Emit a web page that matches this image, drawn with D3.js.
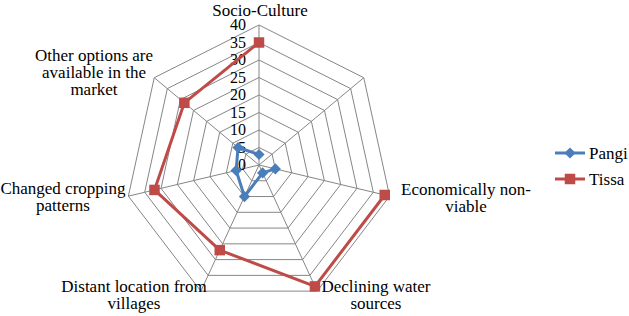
<!DOCTYPE html>
<html>
<head>
  <title>Radar</title>
  <script src="https://d3js.org/d3.v7.min.js"></script>
</head>
<body style="margin:0">
  <svg id="chart" width="629" height="316"></svg>
  <script>
    // categories, clockwise from the top (one axis has no label / no value)
    const categories = [
      ["Socio-Culture"],
      [],
      ["Economically non-", "viable"],
      ["Declining water", "sources"],
      ["Distant location from", "villages"],
      ["Changed cropping", "patterns"],
      ["Other options are", "available in the", "market"]
    ];
    const pangi = [3, null, 5, 2.5, 10, 7, 8];
    const tissa = [35, null, 38.5, 38.5, 27, 32, 28.5];
    const tickValues = [0, 5, 10, 15, 20, 25, 30, 35, 40];
    const seriesNames = ["Pangi", "Tissa"];

    // label placement (center x, first baseline)
    const labelPos = [[260, 16], null, [466, 195], [376, 292], [134, 292], [63, 194], [94, 61]];

    const cx = 259, cy = 165, RX = 134, RY = 140;
    const grid = "#868686";
    const colors = ["#4a7ebb", "#be4b48"];
    const serif = "Liberation Serif";

    const svg = d3.select("#chart");

    const n = categories.length;
    const angle = d3.scaleLinear().domain([0, n]).range([0, 2 * Math.PI]);
    const r = d3.scaleLinear().domain([0, 40]).range([0, 1]);

    const px = (i, v) => cx + Math.sin(angle(i)) * r(v) * RX;
    const py = (i, v) => cy - Math.cos(angle(i)) * r(v) * RY;

    // rings
    tickValues.filter(t => t > 0).forEach(t => {
      const pts = d3.range(n).map(i => [px(i, t), py(i, t)]);
      svg.append("polygon")
        .attr("points", pts.map(p => p.join(",")).join(" "))
        .attr("fill", "none")
        .attr("stroke", grid)
        .attr("stroke-width", 1);
    });

    // spokes
    d3.range(n).forEach(i => {
      svg.append("line")
        .attr("x1", cx).attr("y1", cy)
        .attr("x2", px(i, 40)).attr("y2", py(i, 40))
        .attr("stroke", grid).attr("stroke-width", 1);
    });

    // tick labels
    svg.selectAll(".tick")
      .data(tickValues)
      .enter().append("text")
      .attr("x", cx - 13)
      .attr("y", d => py(0, d) + 5)
      .attr("text-anchor", "end")
      .attr("font-family", serif)
      .attr("font-size", 16)
      .text(d => d);

    // category labels, one text per line
    categories.forEach((lines, i) => {
      if (!labelPos[i]) return;
      lines.forEach((s, k) => {
        svg.append("text")
          .attr("x", labelPos[i][0])
          .attr("y", labelPos[i][1] + k * 17)
          .attr("text-anchor", "middle")
          .attr("font-family", serif)
          .attr("font-size", 17)
          .text(s);
      });
    });

    // series
    const line = d3.line()
      .defined(d => d.v != null)
      .x(d => px(d.i, d.v))
      .y(d => py(d.i, d.v));

    const diamond = d3.symbol().type(d3.symbolDiamond2).size(80);
    const square = d3.symbol().type(d3.symbolSquare).size(110);

    [pangi, tissa].forEach((vals, s) => {
      const pts = vals.map((v, i) => ({ i, v }));
      svg.append("path")
        .attr("d", line(pts.concat([pts[0]])))
        .attr("fill", "none")
        .attr("stroke", colors[s])
        .attr("stroke-width", 3)
        .attr("stroke-linejoin", "round");
      svg.selectAll(".m" + s)
        .data(pts.filter(d => d.v != null))
        .enter().append("path")
        .attr("transform", d => `translate(${px(d.i, d.v)},${py(d.i, d.v)})`)
        .attr("d", s === 0 ? diamond : square)
        .attr("fill", colors[s]);
    });

    // legend
    seriesNames.forEach((name, s) => {
      const y = 153 + s * 26;
      svg.append("line")
        .attr("x1", 555).attr("x2", 585)
        .attr("y1", y).attr("y2", y)
        .attr("stroke", colors[s]).attr("stroke-width", 3);
      svg.append("path")
        .attr("transform", `translate(570,${y})`)
        .attr("d", s === 0 ? diamond : square)
        .attr("fill", colors[s]);
      svg.append("text")
        .attr("x", 589).attr("y", y + 6)
        .attr("font-family", serif)
        .attr("font-size", 17)
        .text(name);
    });
  </script>
</body>
</html>
